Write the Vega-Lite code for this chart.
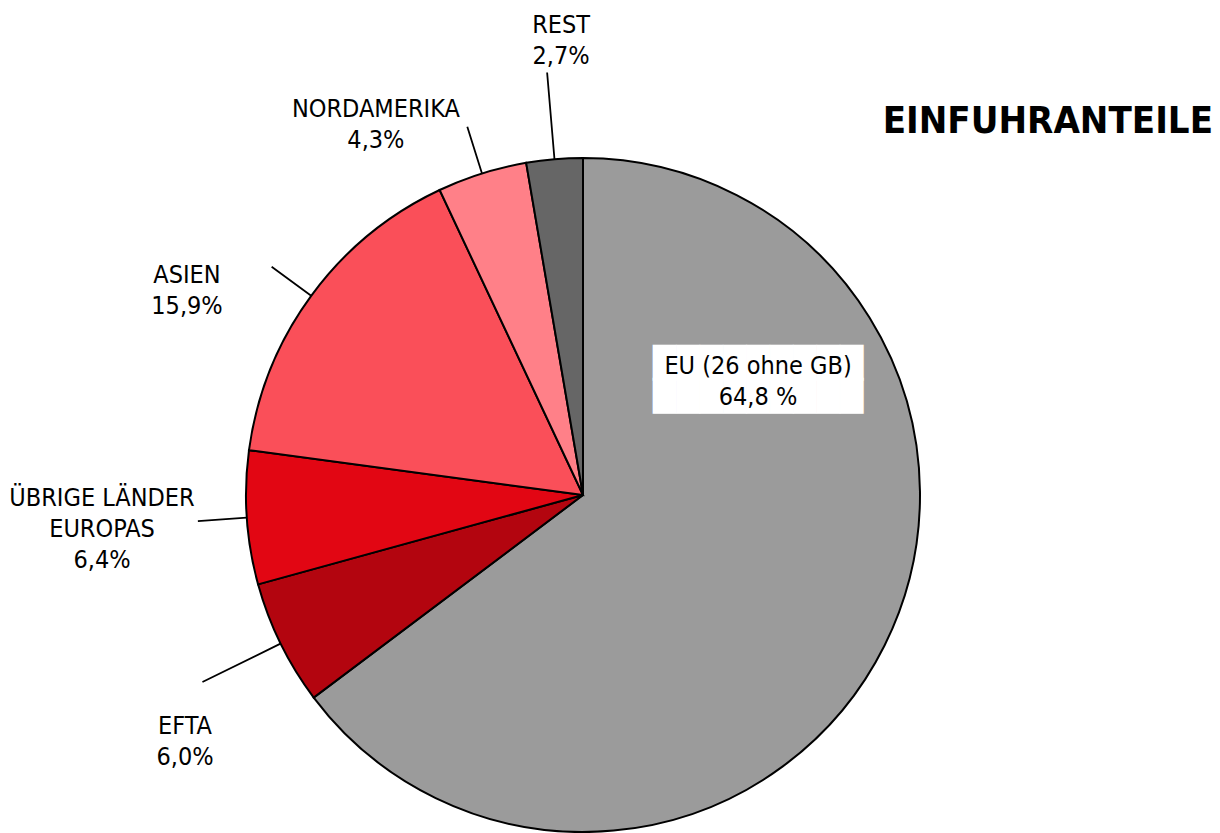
{
  "$schema": "https://vega.github.io/schema/vega-lite/v6.json",
  "autosize": {"type": "none"},
  "width": 1166,
  "height": 676,
  "padding": {"left": 0, "top": 157, "right": 54, "bottom": 0},
  "background": "white",
  "title": {
    "text": "EINFUHRANTEILE",
    "orient": "top",
    "anchor": "end",
    "frame": "group",
    "font": "DejaVu Sans Condensed, DejaVu Sans",
    "fontSize": 38,
    "fontWeight": "bold",
    "color": "black",
    "offset": 0,
    "dx": 47,
    "dy": 139
  },
  "data": {
    "values": [
      {"region": "EU", "label": "EU (26 ohne GB)\n64,8 %", "anteil": 64.8, "nr": 1},
      {"region": "EFTA", "label": "EFTA\n6,0%", "anteil": 6.0, "nr": 2},
      {"region": "ÜBRIGE LÄNDER EUROPAS", "label": "ÜBRIGE LÄNDER\nEUROPAS\n6,4%", "anteil": 6.4, "nr": 3},
      {"region": "ASIEN", "label": "ASIEN\n15,9%", "anteil": 15.9, "nr": 4},
      {"region": "NORDAMERIKA", "label": "NORDAMERIKA\n4,3%", "anteil": 4.3, "nr": 5},
      {"region": "REST", "label": "REST\n2,7%", "anteil": 2.7, "nr": 6}
    ]
  },
  "resolve": {"scale": {"theta": "independent"}},
  "encoding": {
    "theta": {"field": "anteil", "type": "quantitative", "stack": true},
    "order": {"field": "nr", "type": "quantitative"}
  },
  "layer": [
    {
      "mark": {"type": "arc", "radius": 337, "stroke": "black", "strokeWidth": 2},
      "encoding": {
        "color": {
          "field": "region",
          "type": "nominal",
          "legend": null,
          "scale": {
            "domain": ["EU", "EFTA", "ÜBRIGE LÄNDER EUROPAS", "ASIEN", "NORDAMERIKA", "REST"],
            "range": ["#9b9b9b", "#b3050f", "#e20613", "#fa4f59", "#ff8088", "#666666"]
          }
        }
      }
    },
    {
      "mark": {"type": "arc", "radius": 424, "radius2": 337, "padAngle": 3, "fillOpacity": 0, "stroke": "black", "strokeWidth": 1.8},
      "encoding": {
        "strokeOpacity": {"condition": {"test": "indexof(['REST','EFTA'], datum.region) >= 0", "value": 1}, "value": 0}
      }
    },
    {
      "mark": {"type": "arc", "radius": 386, "radius2": 337, "padAngle": 3, "fillOpacity": 0, "stroke": "black", "strokeWidth": 1.8},
      "encoding": {
        "strokeOpacity": {"condition": {"test": "indexof(['NORDAMERIKA','ASIEN','ÜBRIGE LÄNDER EUROPAS'], datum.region) >= 0", "value": 1}, "value": 0}
      }
    },
    {
      "mark": {"type": "text", "radius": 471, "align": "center", "baseline": "middle", "lineBreak": "\n", "lineHeight": 31, "fontSize": 25, "font": "DejaVu Sans Condensed, DejaVu Sans", "color": "black"},
      "encoding": {
        "theta": {"field": "anteil", "type": "quantitative", "stack": true, "scale": {"range": [0.0381, 6.3213]}},
        "text": {"condition": {"test": "datum.region === 'REST'", "field": "label"}, "value": ""}
      }
    },
    {
      "mark": {"type": "text", "radius": 437.6, "align": "center", "baseline": "middle", "lineBreak": "\n", "lineHeight": 31, "fontSize": 25, "font": "DejaVu Sans Condensed, DejaVu Sans", "color": "black"},
      "encoding": {
        "theta": {"field": "anteil", "type": "quantitative", "stack": true, "scale": {"range": [-0.1885, 6.0947]}},
        "text": {"condition": {"test": "datum.region === 'NORDAMERIKA'", "field": "label"}, "value": ""}
      }
    },
    {
      "mark": {"type": "text", "radius": 452.8, "align": "center", "baseline": "middle", "lineBreak": "\n", "lineHeight": 31, "fontSize": 25, "font": "DejaVu Sans Condensed, DejaVu Sans", "color": "black"},
      "encoding": {
        "theta": {"field": "anteil", "type": "quantitative", "stack": true, "scale": {"range": [-0.1262, 6.157]}},
        "text": {"condition": {"test": "datum.region === 'ASIEN'", "field": "label"}, "value": ""}
      }
    },
    {
      "mark": {"type": "text", "radius": 481, "align": "center", "baseline": "middle", "lineBreak": "\n", "lineHeight": 31, "fontSize": 25, "font": "DejaVu Sans Condensed, DejaVu Sans", "color": "black"},
      "encoding": {
        "theta": {"field": "anteil", "type": "quantitative", "stack": true, "scale": {"range": [0.0621, 6.3453]}},
        "text": {"condition": {"test": "datum.region === 'ÜBRIGE LÄNDER EUROPAS'", "field": "label"}, "value": ""}
      }
    },
    {
      "mark": {"type": "text", "radius": 459.9, "align": "center", "baseline": "middle", "lineBreak": "\n", "lineHeight": 31, "fontSize": 25, "font": "DejaVu Sans Condensed, DejaVu Sans", "color": "black"},
      "encoding": {
        "theta": {"field": "anteil", "type": "quantitative", "stack": true, "scale": {"range": [-0.0684, 6.2148]}},
        "text": {"condition": {"test": "datum.region === 'EFTA'", "field": "label"}, "value": ""}
      }
    },
    {
      "mark": {"type": "text", "radius": 217.7, "align": "center", "baseline": "middle", "lineBreak": "\n", "lineHeight": 33.5, "fontSize": 30.4, "font": "DejaVu Sans", "color": "white", "dy": -2},
      "encoding": {
        "theta": {"field": "anteil", "type": "quantitative", "stack": true, "scale": {"range": [-1.0997, 5.1835]}},
        "text": {"condition": {"test": "datum.region === 'EU'", "value": "█████████\n█████████"}, "value": ""}
      }
    },
    {
      "mark": {"type": "text", "radius": 217.7, "align": "center", "baseline": "middle", "lineBreak": "\n", "lineHeight": 31, "fontSize": 25, "font": "DejaVu Sans Condensed, DejaVu Sans", "color": "black"},
      "encoding": {
        "theta": {"field": "anteil", "type": "quantitative", "stack": true, "scale": {"range": [-1.0997, 5.1835]}},
        "text": {"condition": {"test": "datum.region === 'EU'", "field": "label"}, "value": ""}
      }
    }
  ]
}
